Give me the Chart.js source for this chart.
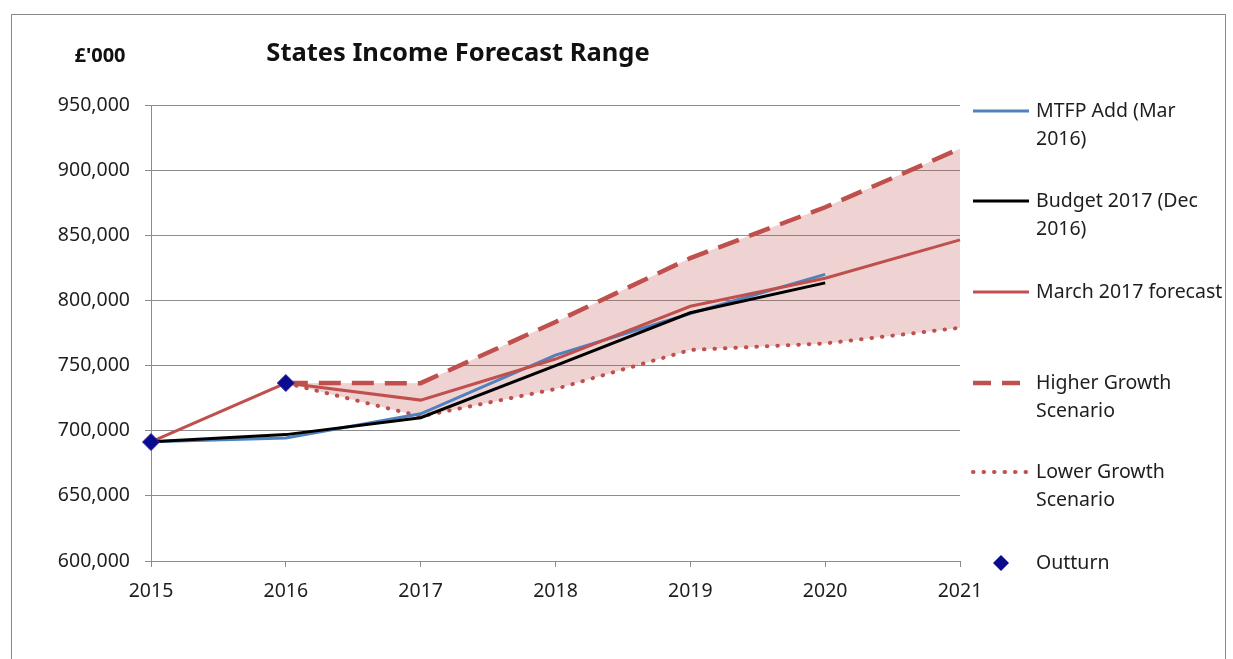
<!DOCTYPE html>
<html>
<head>
<meta charset="utf-8">
<script src="https://cdn.jsdelivr.net/npm/chart.js@4"></script>
<style>
  html, body { margin: 0; padding: 0; background: #fff; }
  #wrap { position: relative; width: 1233px; height: 659px; }
</style>
</head>
<body>
<div id="wrap"><canvas id="incomeChart"></canvas></div>
<script>
// ── Data (£'000) ──────────────────────────────────────────────────────────
const years = ['2015', '2016', '2017', '2018', '2019', '2020', '2021'];
const yTicks = [600000, 650000, 700000, 750000, 800000, 850000, 900000, 950000];

const mtfpAdd      = [691500, 694500, 713000, 758000, 790000, 820000, null];
const budget2017   = [691500, 697000, 710000, 750000, 790500, 813500, null];
const march2017    = [691500, 736600, 723500, 755000, 795500, 817000, 846500];
const higherGrowth = [null,   736600, 736500, 783500, 832500, 871500, 916500];
const lowerGrowth  = [null,   736600, 711000, 732000, 762000, 767000, 779000];
const outturn      = [691300, 736600, null,   null,   null,   null,   null];

const titleText = 'States Income Forecast Range';
const unitText = "£'000";
const legendLabels = [
    ['MTFP Add (Mar', '2016)'],
    ['Budget 2017 (Dec', '2016)'],
    ['March 2017 forecast'],
    ['Higher Growth', 'Scenario'],
    ['Lower Growth', 'Scenario'],
    ['Outturn'],
];

// ── Theme ──────────────────────────────────────────────────────────────────
const FONT = '"Noto Sans", "Open Sans", sans-serif';
const TEXT_COLOR = '#1e1e1e';
const GRID_COLOR = '#8c8c8c';
const BLUE = '#4f81bd';
const RED = '#c0504d';
const NAVY = '#0b0b8f';

// Frame, title and unit label drawn around the plot
const framePlugin = {
    id: 'frame',
    beforeDraw(chart) {
        const { ctx } = chart;
        ctx.save();
        ctx.fillStyle = '#fff';
        ctx.fillRect(0, 0, chart.width, chart.height);
        ctx.strokeStyle = '#8a8a8a';
        ctx.lineWidth = 1;
        ctx.strokeRect(11.5, 14.5, 1214, 700);
        ctx.restore();
    },
    afterDraw(chart) {
        const { ctx } = chart;
        ctx.save();
        ctx.fillStyle = '#111';
        ctx.textBaseline = 'middle';
        ctx.textAlign = 'center';
        ctx.font = `bold 20px ${FONT}`;
        ctx.fillText(unitText, 100, 56);
        ctx.font = `bold 25.5px ${FONT}`;
        ctx.fillText(titleText, 458, 54);
        ctx.restore();
    },
};

// Right-hand legend with wrapped labels, like the original
const sideLegendPlugin = {
    id: 'sideLegend',
    afterDraw(chart) {
        const { ctx } = chart;
        const x0 = 973, x1 = 1029, textX = 1036;
        const rowY = [111, 201, 292, 383, 472, 563];
        const lineGap = 28;

        ctx.save();
        ctx.font = `19.5px ${FONT}`;
        ctx.fillStyle = TEXT_COLOR;
        ctx.textBaseline = 'middle';
        ctx.textAlign = 'left';

        chart.data.datasets.forEach((ds, i) => {
            const y = rowY[i];
            if (ds.showLine === false) {
                ctx.save();
                ctx.fillStyle = ds.pointBackgroundColor;
                ctx.beginPath();
                ctx.moveTo(1001, y - 8);
                ctx.lineTo(1009, y);
                ctx.lineTo(1001, y + 8);
                ctx.lineTo(993, y);
                ctx.closePath();
                ctx.fill();
                ctx.restore();
            } else {
                ctx.save();
                ctx.strokeStyle = ds.borderColor;
                ctx.lineWidth = ds.borderWidth;
                ctx.lineCap = ds.borderCapStyle || 'butt';
                ctx.setLineDash(ds.legendDash || ds.borderDash || []);
                ctx.beginPath();
                ctx.moveTo(x0, y);
                ctx.lineTo(x1, y);
                ctx.stroke();
                ctx.restore();
            }
            legendLabels[i].forEach((line, j) => {
                ctx.fillText(line, textX, y + j * lineGap);
            });
        });
        ctx.restore();
    },
};

const ctx = document.getElementById('incomeChart');

new Chart(ctx, {
    type: 'line',
    data: {
        labels: years,
        datasets: [
            {
                label: legendLabels[0].join(' '),
                data: mtfpAdd,
                borderColor: BLUE,
                borderWidth: 3,
                pointRadius: 0,
                order: 4,
            },
            {
                label: legendLabels[1].join(' '),
                data: budget2017,
                borderColor: '#000',
                borderWidth: 3,
                pointRadius: 0,
                order: 2,
            },
            {
                label: legendLabels[2].join(' '),
                data: march2017,
                borderColor: RED,
                borderWidth: 3,
                pointRadius: 0,
                order: 3,
            },
            {
                label: legendLabels[3].join(' '),
                data: higherGrowth,
                borderColor: RED,
                borderWidth: 4.5,
                borderDash: [22, 11],
                legendDash: [18, 11],
                pointRadius: 0,
                fill: '+1',
                backgroundColor: 'rgba(192,80,77,0.25)',
                order: 5,
            },
            {
                label: legendLabels[4].join(' '),
                data: lowerGrowth,
                borderColor: RED,
                borderWidth: 4,
                borderDash: [0.5, 10],
                borderCapStyle: 'round',
                pointRadius: 0,
                order: 6,
            },
            {
                label: legendLabels[5].join(' '),
                data: outturn,
                showLine: false,
                pointStyle: 'rectRot',
                pointRadius: 8.5,
                pointBackgroundColor: NAVY,
                pointBorderColor: '#2a2aa0',
                pointBorderWidth: 1,
                order: 0,
            },
        ],
    },
    options: {
        responsive: true,
        maintainAspectRatio: false,
        animation: false,
        layout: { padding: { top: 105, right: 273, bottom: 58, left: 0 } },
        plugins: {
            legend: { display: false },
            title: { display: false },
            tooltip: { enabled: false },
            filler: { drawTime: 'beforeDatasetsDraw' },
        },
        scales: {
            x: {
                offset: false,
                afterFit: (scale) => { scale.height = 40; },
                grid: {
                    drawOnChartArea: false,
                    drawTicks: true,
                    tickLength: 6,
                    color: GRID_COLOR,
                },
                border: { color: GRID_COLOR, width: 1 },
                ticks: {
                    color: TEXT_COLOR,
                    font: { family: FONT, size: 19.5 },
                    padding: 13,
                    maxRotation: 0,
                },
            },
            y: {
                min: yTicks[0],
                max: yTicks[yTicks.length - 1],
                afterFit: (scale) => { scale.width = 151; },
                afterBuildTicks: (scale) => {
                    scale.ticks = yTicks.map((v) => ({ value: v }));
                },
                grid: {
                    color: GRID_COLOR,
                    tickLength: 6,
                },
                border: { color: GRID_COLOR, width: 1 },
                ticks: {
                    color: TEXT_COLOR,
                    font: { family: FONT, size: 19.5 },
                    padding: 15,
                    callback: (v) => Number(v).toLocaleString('en-US'),
                },
            },
        },
    },
    plugins: [framePlugin, sideLegendPlugin],
});
</script>
</body>
</html>
